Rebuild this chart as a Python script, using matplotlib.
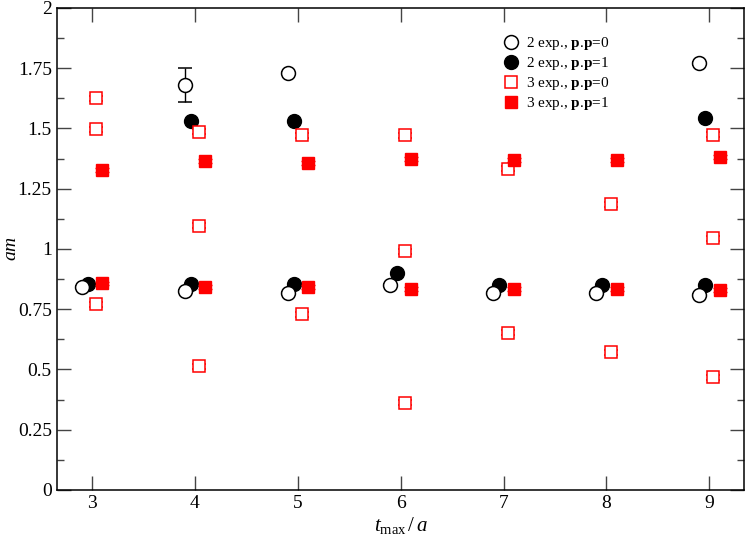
import numpy as np
import matplotlib
matplotlib.use('Agg')
import matplotlib.pyplot as plt
from matplotlib.ticker import MultipleLocator, FuncFormatter
from matplotlib.lines import Line2D

plt.rcParams['font.family'] = ['Liberation Serif', 'DejaVu Serif']
plt.rcParams['mathtext.fontset'] = 'custom'
plt.rcParams['mathtext.rm'] = 'Liberation Serif'
plt.rcParams['mathtext.it'] = 'Liberation Serif:italic'
plt.rcParams['mathtext.bf'] = 'Liberation Serif:bold'

tmax = np.array([3, 4, 5, 6, 7, 8, 9])

# 2 exp., p.p=0 (two states per tmax)
e2_p0_hi = [np.nan, 1.68, 1.73, np.nan, np.nan, np.nan, 1.77]
e2_p0_hi_err = [0, 0.07, 0.005, 0, 0, 0, 0.005]
e2_p0_lo = [0.842, 0.826, 0.818, 0.850, 0.818, 0.818, 0.808]
e2_p0_lo_err = [0.005, 0.005, 0.005, 0.005, 0.005, 0.005, 0.005]

# 2 exp., p.p=1
e2_p1_hi = [np.nan, 1.533, 1.533, np.nan, np.nan, np.nan, 1.544]
e2_p1_lo = [0.854, 0.854, 0.853, 0.901, 0.850, 0.850, 0.850]

# 3 exp., p.p=0 (three states per tmax)
e3_p0_a = [1.625, 1.486, 1.471, 1.472, 1.333, 1.186, 1.475]
e3_p0_b = [1.496, 1.096, 0.729, 0.990, 0.653, 0.572, 1.045]
e3_p0_c = [0.771, 0.5125, np.nan, 0.3625, np.nan, np.nan, 0.468]
e3_p0_err = 0.01

# 3 exp., p.p=1
e3_p1_hi = [1.326, 1.364, 1.356, 1.375, 1.371, 1.371, 1.382]
e3_p1_lo = [0.857, 0.843, 0.843, 0.835, 0.833, 0.833, 0.829]

labels = ['2 exp., $\\mathbf{p}$.$\\mathbf{p}$=0', '2 exp., $\\mathbf{p}$.$\\mathbf{p}$=1',
          '3 exp., $\\mathbf{p}$.$\\mathbf{p}$=0', '3 exp., $\\mathbf{p}$.$\\mathbf{p}$=1']

fig = plt.figure(figsize=(7.47, 5.4), dpi=100)
ax = fig.add_axes([0.0759, 0.0926, 0.9205, 0.8926])

red = '#ff0000'
cap = 5

# 2 exp., p.p=0
x = tmax - 0.1
ax.errorbar(x, e2_p0_lo, yerr=e2_p0_lo_err, fmt='o', ms=10, mfc='white', mec='black',
            mew=1.1, ecolor='black', elinewidth=1, capsize=cap)
ax.errorbar(x, e2_p0_hi, yerr=e2_p0_hi_err, fmt='o', ms=10, mfc='white', mec='black',
            mew=1.1, ecolor='black', elinewidth=1, capsize=cap)

# 2 exp., p.p=1
x = tmax - 0.04
ax.plot(x, e2_p1_lo, 'o', ms=10, color='black')
ax.plot(x, e2_p1_hi, 'o', ms=10, color='black')

# 3 exp., p.p=0
x = tmax + 0.04
for ys in [e3_p0_a, e3_p0_b, e3_p0_c]:
    ax.errorbar(x, ys, yerr=e3_p0_err, fmt='s', ms=8.5, mfc='white', mec=red, mew=1.1,
                ecolor=red, elinewidth=1, capsize=cap)

# 3 exp., p.p=1
x = tmax + 0.1
for ys in [e3_p1_hi, e3_p1_lo]:
    ax.errorbar(x, ys, yerr=0.008, fmt='s', ms=9, color=red, ecolor=red,
                elinewidth=1, capsize=cap)

ax.set_xlim(2.656, 9.34)
ax.set_ylim(0, 2)
ax.set_xticks(tmax)
ax.yaxis.set_major_locator(MultipleLocator(0.25))
ax.yaxis.set_minor_locator(MultipleLocator(0.125))
ax.yaxis.set_major_formatter(FuncFormatter(lambda v, p: '%g' % v))
ax.tick_params(which='both', direction='in', top=True, right=True, labelsize=14,
               color='#444444', width=1)
ax.tick_params(which='major', length=10)
ax.tick_params(which='minor', length=5)
for s in ax.spines.values():
    s.set_linewidth(1.1)

ax.set_xlabel('$t_{\\rm max}\\,/\\,a$', fontsize=15, labelpad=2)
fig.text(12 / 747, 0.539, '$am$', rotation=90, ha='center', va='center', fontsize=14)

handles = [
    Line2D([], [], ls='none', marker='o', ms=10, mfc='white', mec='black', mew=1.1),
    Line2D([], [], ls='none', marker='o', ms=10, color='black'),
    Line2D([], [], ls='none', marker='s', ms=8.5, mfc='white', mec=red, mew=1.1),
    Line2D([], [], ls='none', marker='s', ms=9, color=red),
]
ax.legend(handles, labels, loc='upper left', bbox_to_anchor=(0.638, 0.956),
          frameon=False, fontsize=11, handletextpad=0.4, labelspacing=0.2,
          handlelength=1.2, borderaxespad=0)

fig.savefig('out.png', dpi=100)
